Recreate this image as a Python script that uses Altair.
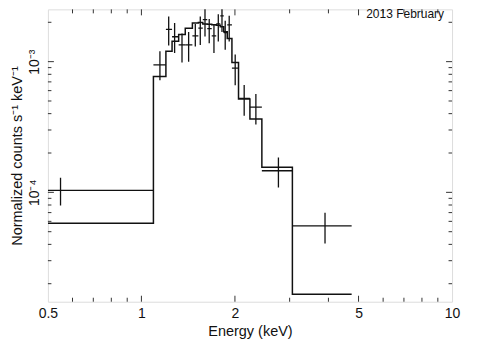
import altair as alt
import pandas as pd

# Spectral bins (keV)
bin_lo = [0.5, 1.093, 1.199, 1.255, 1.318, 1.384, 1.459, 1.525, 1.576, 1.629,
          1.684, 1.741, 1.794, 1.841, 1.889, 1.956, 2.054, 2.235, 2.442, 3.062]
bin_hi = [1.093, 1.199, 1.255, 1.318, 1.384, 1.459, 1.525, 1.576, 1.629, 1.684,
          1.741, 1.794, 1.841, 1.889, 1.956, 2.054, 2.235, 2.442, 3.062, 4.751]
energy = [0.549, 1.147, 1.224, 1.279, 1.351, 1.419, 1.491, 1.547, 1.602, 1.653,
          1.712, 1.768, 1.817, 1.861, 1.917, 2.004, 2.142, 2.336, 2.761, 3.900]
# Normalized counts s^-1 keV^-1
counts = [1.035e-4, 9.45e-4, 1.765e-3, 1.550e-3, 1.343e-3, 1.343e-3, 1.577e-3, 1.807e-3,
          2.093e-3, 1.786e-3, 1.577e-3, 1.945e-3, 2.241e-3, 1.668e-3, 1.912e-3, 8.92e-4,
          5.23e-4, 4.49e-4, 1.463e-4, 5.53e-5]
err_lo = [7.915e-5, 7.20e-4, 1.329e-3, 1.166e-3, 9.83e-4, 1.0e-3, 1.307e-3, 1.343e-3,
          1.558e-3, 1.382e-3, 1.166e-3, 1.423e-3, 1.688e-3, 1.233e-3, 1.423e-3, 6.61e-4,
          3.85e-4, 3.30e-4, 1.089e-4, 4.07e-5]
err_hi = [1.291e-4, 1.200e-3, 2.218e-3, 1.978e-3, 1.640e-3, 1.688e-3, 1.945e-3, 2.218e-3,
          2.75e-3, 2.118e-3, 1.945e-3, 2.307e-3, 2.75e-3, 2.057e-3, 2.241e-3, 1.133e-3,
          6.64e-4, 5.65e-4, 1.848e-4, 6.99e-5]
# Folded model (step)
model = [5.79e-5, 7.70e-4, 1.200e-3, 1.431e-3, 1.612e-3, 1.801e-3, 1.978e-3, 1.995e-3,
         1.945e-3, 1.929e-3, 1.912e-3, 1.896e-3, 1.848e-3, 1.696e-3, 1.506e-3, 9.83e-4,
         5.17e-4, 3.64e-4, 1.558e-4, 1.66e-5]

x_labels = [0.5, 1, 2, 5, 10]
x_major = [1, 2, 5]
x_minor = [0.6, 0.7, 0.8, 0.9, 3, 4, 6, 7, 8, 9]
y_major = [1e-4, 1e-3]
y_minor = [2e-5, 3e-5, 4e-5, 5e-5, 6e-5, 7e-5, 8e-5, 9e-5,
           2e-4, 3e-4, 4e-4, 5e-4, 6e-4, 7e-4, 8e-4, 9e-4, 2e-3]

W, H = 405, 293
FONT = "Liberation Sans"
INK = "#111111"

pts = pd.DataFrame(dict(e=energy, lo=bin_lo, hi=bin_hi, c=counts, clo=err_lo, chi=err_hi))
mdl = pd.DataFrame(dict(e=bin_lo + [bin_hi[-1]], m=model + [model[-1]]))

xs = alt.Scale(type="log", domain=[0.5, 10], nice=False)
ys = alt.Scale(type="log", domain=[1.456e-5, 2.512e-3], nice=False)

xaxis = alt.Axis(values=x_labels, format="~g", ticks=False, domain=False, grid=False,
                 labelFlush=False, labelOverlap=False,
                 labelFont=FONT, labelFontSize=14, labelColor=INK, labelPadding=5,
                 title="Energy (keV)", titleFont=FONT, titleFontSize=14.5,
                 titleFontWeight="normal", titleColor=INK, titlePadding=4)
yaxis = alt.Axis(values=y_major, labelExpr="datum.value < 0.0005 ? '10⁻⁴' : '10⁻³'",
                 ticks=False, domain=False, grid=False, labelAngle=270,
                 labelFlush=False, labelOverlap=False,
                 labelAlign="center", labelBaseline="bottom",
                 labelFont=FONT, labelFontSize=14, labelColor=INK, labelPadding=6,
                 title="Normalized counts s⁻¹ keV⁻¹", titleFont=FONT, titleFontSize=14.5,
                 titleFontWeight="normal", titleColor=INK, titlePadding=3)

base = alt.Chart(pts)

hbar = base.mark_rule(color=INK, strokeWidth=1.3, clip=True).encode(
    x=alt.X("lo:Q", scale=xs, axis=xaxis),
    x2="hi:Q",
    y=alt.Y("c:Q", scale=ys, axis=yaxis),
)
vbar = base.mark_rule(color=INK, strokeWidth=1.3, clip=True).encode(
    x=alt.X("e:Q", scale=xs),
    y=alt.Y("clo:Q", scale=ys),
    y2="chi:Q",
)
step = alt.Chart(mdl).mark_line(color=INK, strokeWidth=1.5, interpolate="step-after",
                                clip=True).encode(
    x=alt.X("e:Q", scale=xs),
    y=alt.Y("m:Q", scale=ys),
)

tick_color = "#333333"

def xticks(vals, length):
    d = pd.DataFrame(dict(v=vals))
    bot = alt.Chart(d).mark_rule(color=tick_color, strokeWidth=1).encode(
        x=alt.X("v:Q", scale=xs), y=alt.value(H), y2=alt.value(H - length))
    top = alt.Chart(d).mark_rule(color=tick_color, strokeWidth=1).encode(
        x=alt.X("v:Q", scale=xs), y=alt.value(0), y2=alt.value(length))
    return [bot, top]

def yticks(vals, length):
    d = pd.DataFrame(dict(v=vals))
    left = alt.Chart(d).mark_rule(color=tick_color, strokeWidth=1).encode(
        y=alt.Y("v:Q", scale=ys), x=alt.value(0), x2=alt.value(length))
    right = alt.Chart(d).mark_rule(color=tick_color, strokeWidth=1).encode(
        y=alt.Y("v:Q", scale=ys), x=alt.value(W), x2=alt.value(W - length))
    return [left, right]

label = alt.Chart(pd.DataFrame(dict(t=["2013 February"]))).mark_text(
    font=FONT, fontSize=12, color=INK, align="right", baseline="middle"
).encode(text="t:N", x=alt.value(W - 8), y=alt.value(5))

layers = [step, hbar, vbar] + xticks(x_major, 6) + xticks(x_minor, 4) \
    + yticks(y_major, 6) + yticks(y_minor, 3.5) + [label]

chart = alt.layer(*layers).properties(
    width=W, height=H,
    autosize=alt.AutoSizeParams(type="none"),
    padding={"left": 40, "top": 1, "right": 20, "bottom": 40},
).configure_view(stroke="#333333", strokeWidth=1.5).configure(background="white")

chart.save("out.html", embed_options={"renderer": "svg", "actions": False})
